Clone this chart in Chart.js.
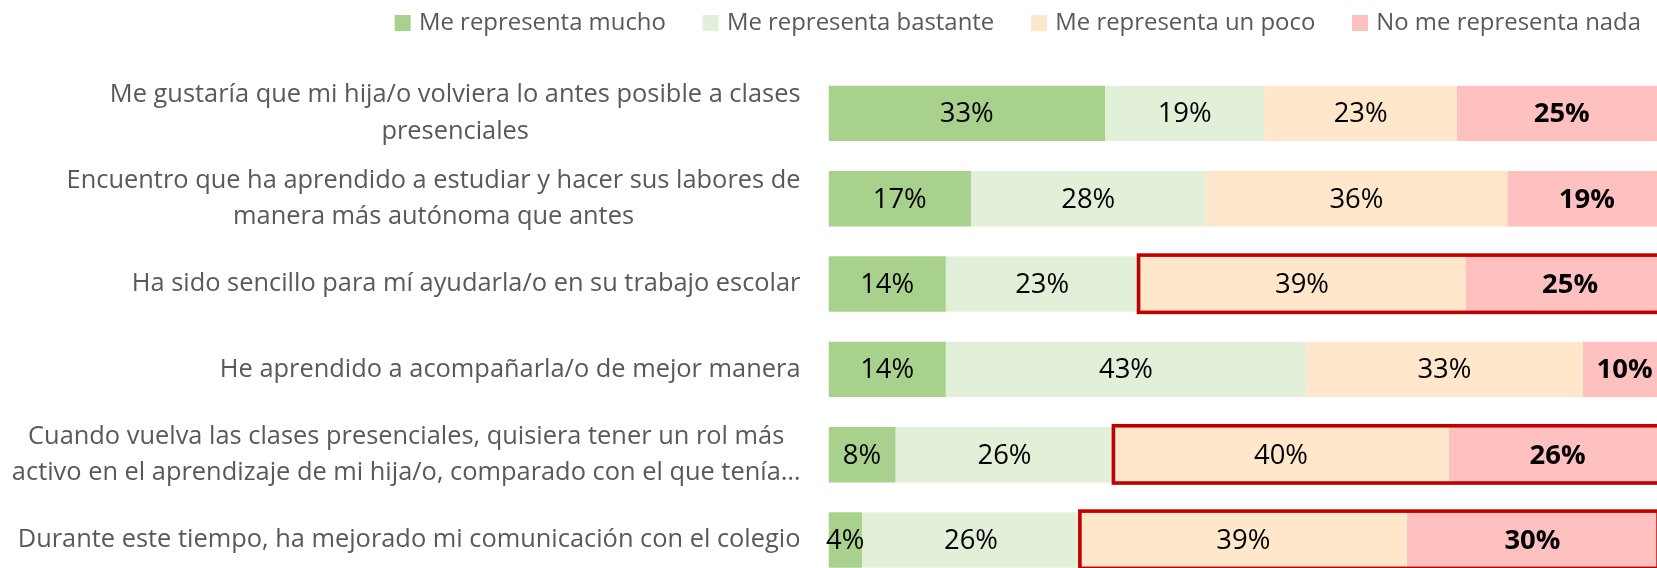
<!DOCTYPE html>
<html><head><meta charset="utf-8">
<script src="https://cdn.jsdelivr.net/npm/chart.js@4/dist/chart.umd.min.js"></script>
<style>
html,body{margin:0;padding:0;overflow:hidden;background:#fff;width:1657px;height:568px}
#wrap{position:absolute;left:0;top:0;width:1667px;height:583px}
canvas{display:block}
</style></head><body><div id="wrap"><canvas id="c" width="1667" height="583" style="width:1667px;height:583px"></canvas></div>
<script>
// ---- data ----
const categories = [
  ["Me gustaría que mi hija/o volviera lo antes posible a clases", "presenciales"],
  ["Encuentro que ha aprendido a estudiar y hacer sus labores de", "manera más autónoma que antes"],
  "Ha sido sencillo para mí ayudarla/o en su trabajo escolar",
  "He aprendido a acompañarla/o de mejor manera",
  ["Cuando vuelva las clases presenciales, quisiera tener un rol más", "activo en el aprendizaje de mi hija/o, comparado con el que tenía…"],
  "Durante este tiempo, ha mejorado mi comunicación con el colegio"
];
const seriesNames = ["Me representa mucho", "Me representa bastante", "Me representa un poco", "No me representa nada"];
const mucho    = [33, 17, 14, 14,  8,  4];
const bastante = [19, 28, 23, 43, 26, 26];
const unPoco   = [23, 36, 39, 33, 40, 39];
const nada     = [25, 19, 25, 10, 26, 30];
const highlightedRows = [2, 4, 5];   // rows framed in red (un poco + nada)

// ---- styles ----
const seriesColors = ["#A9D18E", "#E2F0D9", "#FFE7CC", "#FFC0C0"];
const boldSeries = [false, false, false, true];
const FAMILY = "'Open Sans', 'Noto Sans', sans-serif";
const GRAY = "#595959";

function fitSize(text, weight, target) {
  const ctx = document.createElement('canvas').getContext('2d');
  ctx.font = weight + " 100px " + FAMILY;
  return 100 * target / ctx.measureText(text).width;
}
const catSize = fitSize("Ha sido sencillo para mí ayudarla/o en su trabajo escolar", "normal", 669);
const legSize = fitSize("Me representa mucho", "normal", 247);
const valSize = fitSize("33%", "normal", 54);
const catLineH = 36.7;

const overlay = {
  id: 'overlay',
  afterDatasetsDraw(chart) {
    const ctx = chart.ctx;
    // red frames
    ctx.save();
    ctx.strokeStyle = "#C00000";
    ctx.lineWidth = 3.6;
    const m2 = chart.getDatasetMeta(2), m3 = chart.getDatasetMeta(3);
    highlightedRows.forEach(i => {
      const a = m2.data[i], b = m3.data[i];
      const left = a.base, right = b.x;
      const top = a.y - a.height / 2 - 1.2, bottom = a.y + a.height / 2 + 0.6;
      ctx.strokeRect(left, top, right - left, bottom - top);
    });
    ctx.restore();
    // value labels
    ctx.save();
    ctx.textAlign = 'center';
    ctx.textBaseline = 'middle';
    ctx.fillStyle = '#000';
    chart.data.datasets.forEach((ds, d) => {
      const meta = chart.getDatasetMeta(d);
      ctx.font = (boldSeries[d] ? "bold " : "normal ") + valSize.toFixed(2) + "px " + FAMILY;
      meta.data.forEach((el, i) => {
        const cx = (el.x + el.base) / 2;
        ctx.fillText(ds.data[i] + "%", cx, el.y + 1);
      });
    });
    ctx.restore();
  },
  afterDraw(chart) {
    const ctx = chart.ctx;
    const yScale = chart.scales.y;
    // category labels
    ctx.save();
    ctx.fillStyle = GRAY;
    ctx.textBaseline = 'middle';
    ctx.font = "normal " + catSize.toFixed(2) + "px " + FAMILY;
    const rightEdge = chart.chartArea.left - 28;
    categories.forEach((lab, i) => {
      const lines = Array.isArray(lab) ? lab : [lab];
      const yc = yScale.getPixelForValue(i);
      const widest = Math.max(...lines.map(l => ctx.measureText(l).width));
      const cx = rightEdge - widest / 2;
      ctx.textAlign = 'center';
      lines.forEach((l, k) => {
        ctx.fillText(l, cx, yc + (k - (lines.length - 1) / 2) * catLineH);
      });
    });
    ctx.restore();
    // legend
    ctx.save();
    ctx.font = "normal " + legSize.toFixed(2) + "px " + FAMILY;
    ctx.textBaseline = 'middle';
    ctx.textAlign = 'left';
    const box = 16, gapBoxText = 8.3, gapItems = 36.7;
    const widths = seriesNames.map(s => ctx.measureText(s).width);
    const total = widths.reduce((a, w) => a + box + gapBoxText + w, 0) + gapItems * (seriesNames.length - 1);
    let x = 1641 - total;
    const yc = 23;
    seriesNames.forEach((s, k) => {
      ctx.fillStyle = seriesColors[k];
      ctx.fillRect(x, yc - box / 2, box, box);
      ctx.fillStyle = GRAY;
      ctx.fillText(s, x + box + gapBoxText, yc + 0.5);
      x += box + gapBoxText + widths[k] + gapItems;
    });
    ctx.restore();
  }
};

const seriesValues = [mucho, bastante, unPoco, nada];
new Chart(document.getElementById('c'), {
  type: 'bar',
  data: {
    labels: categories.map(c => Array.isArray(c) ? c.join(' ') : c),
    datasets: seriesNames.map((name, k) => ({
      label: name,
      data: seriesValues[k],
      backgroundColor: seriesColors[k],
      borderWidth: 0,
      categoryPercentage: 0.65,
      barPercentage: 1.0
    }))
  },
  options: {
    indexAxis: 'y',
    responsive: false,
    animation: false,
    devicePixelRatio: 1,
    layout: { padding: { left: 828.5, right: 0.5, top: 70.7, bottom: 0.3 } },
    plugins: { legend: { display: false }, tooltip: { enabled: false } },
    scales: {
      x: { stacked: true, min: 0, max: 100, display: false },
      y: { stacked: true, display: false }
    }
  },
  plugins: [overlay]
});
</script>
</body></html>
